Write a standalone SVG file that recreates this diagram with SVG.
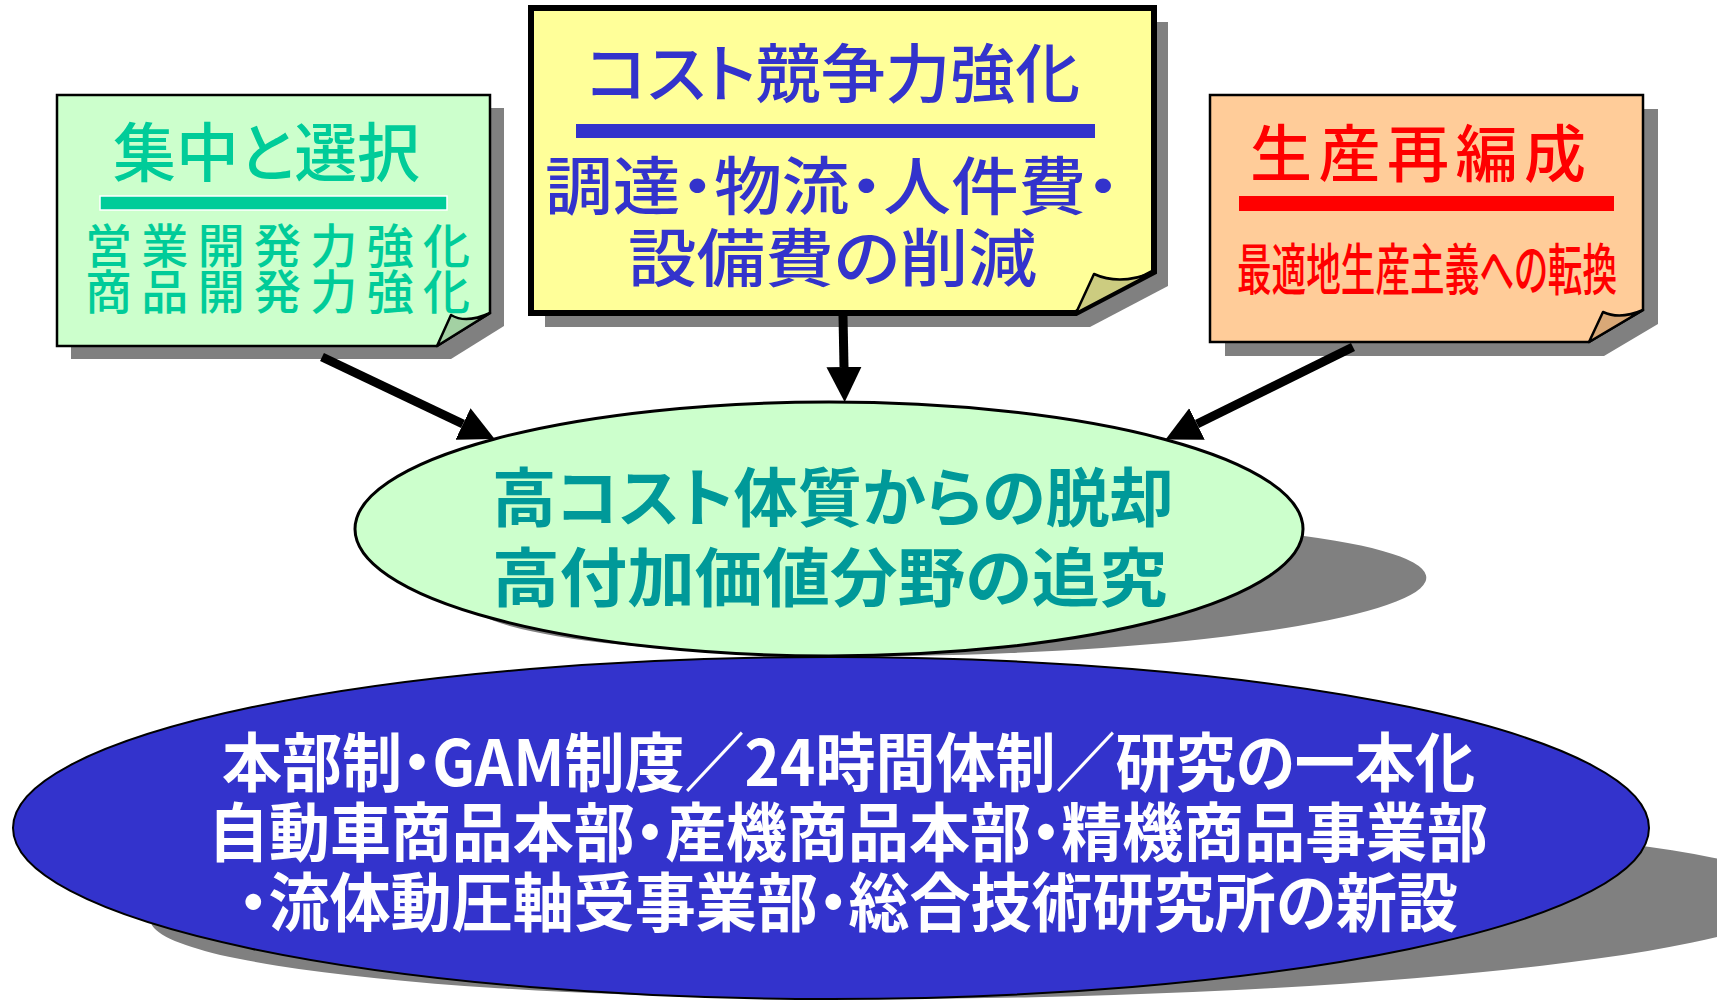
<svg xmlns="http://www.w3.org/2000/svg" width="1717" height="1000" viewBox="0 0 1717 1000">
<defs>
<marker id="ah" viewBox="0 0 10 10" refX="0" refY="5" markerWidth="3.9" markerHeight="4.2" orient="auto" markerUnits="strokeWidth"><path d="M0,0 L10,5 L0,10 Z" fill="#000"/></marker>
</defs>
<style>
.sh{fill:#808080;stroke:none}
.t{font-family:"Noto Sans CJK JP","Noto Sans",sans-serif;font-feature-settings:"palt" 1}
.m{font-weight:500}
.b{font-weight:bold}
.note{stroke:#000;stroke-linejoin:miter}
.flap{stroke:#000;stroke-width:2.5;stroke-linejoin:round}
</style>
<rect width="1717" height="1000" fill="#fff"/>

<g id="node-bottom">
<ellipse class="sh" cx="831" cy="828" rx="818" ry="171" transform="matrix(1,0,-0.6,0.532,640.4,467.5)"/>
<ellipse cx="831" cy="828" rx="818" ry="171" fill="#3333CC" stroke="#000" stroke-width="2"/>
<g class="t b" font-size="64" fill="#fff">
<text x="222" y="786" textLength="1253" lengthAdjust="spacingAndGlyphs">本部制・GAM制度／24時間体制／研究の一本化</text>
<text x="208" y="856" textLength="1280" lengthAdjust="spacingAndGlyphs">自動車商品本部・産機商品本部・精機商品事業部</text>
<text x="238" y="926" textLength="1220" lengthAdjust="spacingAndGlyphs">・流体動圧軸受事業部・総合技術研究所の新設</text>
</g>
</g>

<g id="node-center">
<ellipse class="sh" cx="829" cy="529" rx="474" ry="127" transform="matrix(1,0,-0.6,0.532,434.6,307)"/>
<ellipse cx="829" cy="529" rx="474" ry="127" fill="#CCFFCC" stroke="#000" stroke-width="3"/>
<g class="t b" font-size="64" fill="#009999">
<text x="492" y="521" textLength="682" lengthAdjust="spacingAndGlyphs">高コスト体質からの脱却</text>
<text x="492" y="601" textLength="675" lengthAdjust="spacingAndGlyphs">高付加価値分野の追究</text>
</g>
</g>

<g id="node-left">
<path class="sh" transform="translate(14,13)" d="M57,95 H490 V313 L437,346 H57 Z"/>
<path class="note" d="M57,95 H490 V313 L437,346 H57 Z" fill="#CCFFCC" stroke-width="2.5"/>
<path class="flap" d="M437,346 L451,315 Q466,324 490,313 Z" fill="#A3D1A3"/>
<text class="t m" x="113" y="176" font-size="64" fill="#00CC99" textLength="307" lengthAdjust="spacingAndGlyphs">集中と選択</text>
<rect x="100" y="196" width="347" height="14" fill="#00CC99" stroke="#fff" stroke-width="1.5"/>
<text class="t m" x="85" y="263" font-size="47" fill="#00CC99" textLength="385" lengthAdjust="spacing">営業開発力強化</text>
<text class="t m" x="85" y="309" font-size="47" fill="#00CC99" textLength="385" lengthAdjust="spacing">商品開発力強化</text>
</g>

<g id="node-middle">
<path class="sh" transform="translate(14,14)" d="M531,8 H1154 V272 L1076,313 H531 Z"/>
<path class="note" d="M531,8 H1154 V272 L1076,313 H531 Z" fill="#FFFF99" stroke-width="6"/>
<path class="flap" d="M1076,313 L1094,274 Q1120,286 1154,272 Z" fill="#CCCC80" stroke-width="3"/>
<text class="t m" x="586" y="97" font-size="64" fill="#3333CC" textLength="494" lengthAdjust="spacingAndGlyphs">コスト競争力強化</text>
<rect x="576" y="124" width="519" height="14" fill="#3333CC"/>
<text class="t m" x="545" y="209" font-size="63" fill="#3333CC" textLength="575" lengthAdjust="spacingAndGlyphs">調達・物流・人件費・</text>
<text class="t m" x="628" y="281" font-size="63" fill="#3333CC" textLength="409" lengthAdjust="spacingAndGlyphs">設備費の削減</text>
</g>

<g id="node-right">
<path class="sh" transform="translate(15,14)" d="M1210,95 H1643 V310 L1589,342 H1210 Z"/>
<path class="note" d="M1210,95 H1643 V310 L1589,342 H1210 Z" fill="#FFCC99" stroke-width="2.5"/>
<path class="flap" d="M1589,342 L1603,312 Q1620,320 1643,310 Z" fill="#D9A877"/>
<text class="t m" x="1250" y="177" font-size="62" fill="#FF0000" textLength="336" lengthAdjust="spacing">生産再編成</text>
<rect x="1239" y="196" width="375" height="15" fill="#FF0000"/>
<text class="t m" x="1237" y="290" font-size="56" fill="#FF0000" textLength="380" lengthAdjust="spacingAndGlyphs">最適地生産主義への転換</text>
</g>

<g id="connectors" stroke="#000" stroke-width="9" fill="none" marker-end="url(#ah)">
<line x1="322" y1="357" x2="463" y2="424"/>
<line x1="843" y1="316" x2="844" y2="367"/>
<line x1="1353" y1="347" x2="1197" y2="424"/>
</g>
</svg>
